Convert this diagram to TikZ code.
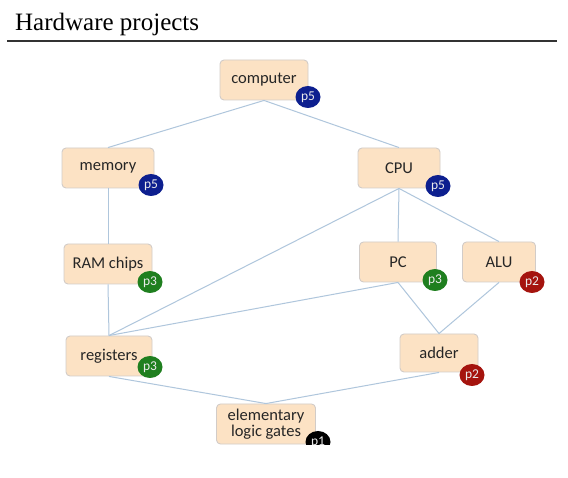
\documentclass[tikz,border=0pt]{standalone}
\usepackage{fontspec}
\setmainfont{Carlito}
\newfontfamily\titlefont{Liberation Serif}
\usetikzlibrary{shapes.geometric}
\definecolor{boxfill}{HTML}{FCE2C4}
\definecolor{boxline}{HTML}{D2CCC8}
\definecolor{linkcol}{HTML}{AFC6DC}
\definecolor{bblue}{HTML}{0D1F8F}
\definecolor{bgreen}{HTML}{1F7F1F}
\definecolor{bred}{HTML}{A5140E}
\begin{document}
\begin{tikzpicture}[x=1pt,y=-1pt,
  hwbox/.style={draw=boxline, fill=boxfill, rounded corners=4pt, line width=0.9pt,
    minimum height=40pt, inner sep=2pt, font=\fontsize{16.5}{18}\selectfont, text=black!85, align=center},
  badge/.style={ellipse, fill=#1, minimum width=25pt, minimum height=22pt, inner sep=0pt,
    text=white!92!black, font=\fontsize{13.5}{14}\selectfont},
  link/.style={draw=linkcol, line width=1pt}]
\useasboundingbox (0,0) rectangle (568,478);
\fill[white] (0,0) rectangle (568,478);
% title
\node[anchor=base west, font=\titlefont\fontsize{25}{28}\selectfont, inner sep=0pt] (title) at (15,31) {Hardware projects};
\coordinate (rl) at (7,41);
\coordinate (rr) at (557,41);
\draw[line width=1.4pt, black!80] (rl) -- (rr);
% boxes
\node[hwbox, minimum width=88pt] (computer) at (264,80) {computer};
\node[hwbox, minimum width=92pt] (memory) at (108,168) {memory};
\node[hwbox, minimum width=82pt] (cpu) at (399,168) {CPU};
\node[hwbox, minimum width=88pt] (ram) at (108,264) {RAM chips};
\node[hwbox, minimum width=77pt] (pc) at (398,262) {PC};
\node[hwbox, minimum width=73pt] (alu) at (499,262) {ALU};
\node[hwbox, minimum width=86pt] (registers) at (109,356) {registers};
\node[hwbox, minimum width=78pt, minimum height=38pt] (adder) at (439,353) {adder};
% connectors
\draw[link] (computer.south) -- (memory.north);
\draw[link] (computer.south) -- (cpu.north);
\draw[link] (memory.south) -- (ram.north);
\draw[link] (ram.south) -- (registers.north);
\draw[link] (cpu.south) -- (registers.north);
\draw[link] (cpu.south) -- (pc.north);
\draw[link] (cpu.south) -- (alu.north);
\draw[link] (pc.south) -- (registers.north);
\draw[link] (pc.south) -- (adder.north);
\draw[link] (alu.south) -- (adder.north);
\begin{scope}
\clip (0,0) rectangle (568,444);
\node[hwbox, minimum width=99pt, font=\fontsize{16.5}{16}\selectfont] (gates) at (266,424) {elementary\\logic gates};
\node[badge=black] (bgates) at (318,442) {p1};
\end{scope}
\draw[link] (registers.south) -- (gates.north);
\draw[link] (adder.south) -- (gates.north);
% badges
\node[badge=bblue] (bcomputer) at (308,97) {p5};
\node[badge=bblue] (bmemory) at (151,185) {p5};
\node[badge=bblue] (bcpu) at (438,186) {p5};
\node[badge=bgreen] (bram) at (150,282) {p3};
\node[badge=bgreen] (bpc) at (435,280) {p3};
\node[badge=bred] (balu) at (532,282) {p2};
\node[badge=bgreen] (bregisters) at (150,367) {p3};
\node[badge=bred] (badder) at (472,375) {p2};
\end{tikzpicture}
\end{document}
